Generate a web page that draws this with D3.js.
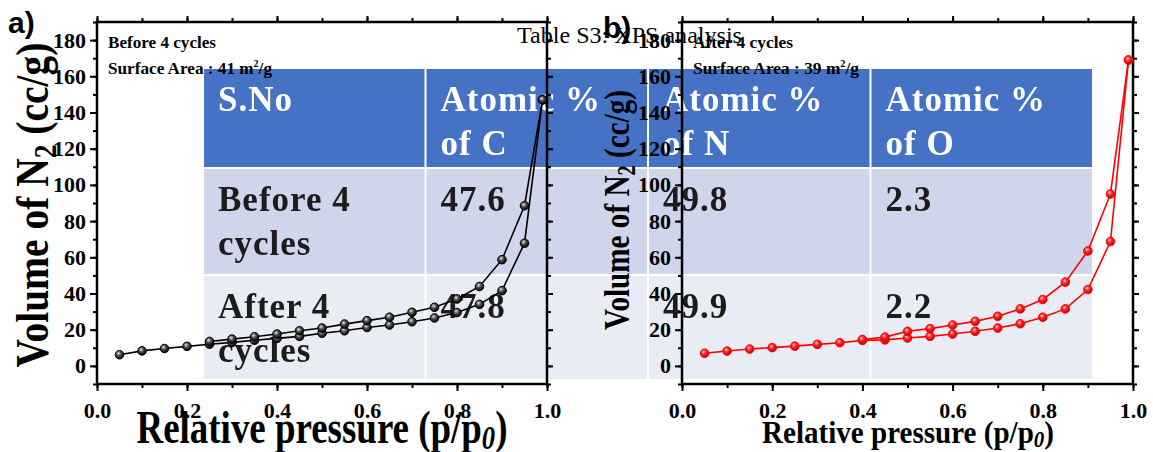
<!DOCTYPE html>
<html>
<head>
<meta charset="utf-8">
<script src="https://cdn.jsdelivr.net/npm/d3@7"></script>
<style>
  body { margin: 0; background: #fff; }
  svg { display: block; }
</style>
</head>
<body>
<div id="chart-area"></div>
<script>
// isotherm data
var adsPressure = [0.05, 0.1, 0.15, 0.2, 0.25, 0.3, 0.35, 0.4, 0.45, 0.5, 0.55, 0.6, 0.65, 0.7, 0.75, 0.8, 0.85, 0.9, 0.95, 0.99];
var beforeAds = [6.2, 8.3, 9.6, 10.8, 12.0, 13.0, 14.2, 15.2, 16.3, 18.0, 19.4, 21.2, 22.6, 24.4, 26.5, 29.5, 34.0, 41.6, 67.8, 147];
var beforeDesPressure = [0.99, 0.95, 0.9, 0.85, 0.8, 0.75, 0.7, 0.65, 0.6, 0.55, 0.5, 0.45, 0.4, 0.35, 0.3, 0.25];
var beforeDes = [147, 88.5, 58.7, 43.9, 37.0, 32.4, 29.6, 26.9, 25.0, 23.1, 20.9, 19.4, 17.6, 16.1, 14.8, 13.5];
var afterAds = [7.0, 8.2, 9.3, 10.1, 10.9, 11.9, 12.8, 14.1, 14.4, 15.4, 16.3, 17.6, 19.1, 20.9, 23.3, 26.9, 31.5, 42.2, 68.7, 169];
var afterDesPressure = [0.99, 0.95, 0.9, 0.85, 0.8, 0.75, 0.7, 0.65, 0.6, 0.55, 0.5, 0.45, 0.4];
var afterDes = [169, 95, 63.5, 46.3, 36.7, 31.5, 27.4, 24.6, 22.6, 20.6, 19.1, 15.9, 14.6];

var xTicks = [0, 0.2, 0.4, 0.6, 0.8, 1.0];
var yTicks = [0, 20, 40, 60, 80, 100, 120, 140, 160, 180];

// background table (XPS)
var tableTitle = "Table S3: XPS analysis";
var tableHeader = [["S.No"], ["Atomic %", "of C"], ["Atomic %", "of N"], ["Atomic %", "of O"]];
var tableRows = [
  [["Before 4", "cycles"], ["47.6"], ["49.8"], ["2.3"]],
  [["After 4", "cycles"], ["47.8"], ["49.9"], ["2.2"]]
];

var width = 1153, height = 452;
var svg = d3.select("#chart-area").append("svg")
  .attr("width", width).attr("height", height);

var defs = svg.append("defs");
defs.append("filter").attr("id", "blur")
  .append("feGaussianBlur").attr("stdDeviation", 0.7);

function ballGradient(id, light, mid, dark) {
  var gr = defs.append("radialGradient").attr("id", id)
    .attr("cx", "40%").attr("cy", "35%").attr("r", "65%");
  gr.append("stop").attr("offset", "0%").attr("stop-color", light);
  gr.append("stop").attr("offset", "40%").attr("stop-color", mid);
  gr.append("stop").attr("offset", "100%").attr("stop-color", dark);
}
ballGradient("ballBlack", "#e8e8e8", "#555", "#000");
ballGradient("ballRed", "#ffd0d0", "#ff2a2a", "#c00000");

var serif = "'Liberation Serif', 'Times New Roman', serif";

// ---- table behind the plots ----
var tbl = svg.append("g").attr("filter", "url(#blur)");
var col = d3.scaleBand().domain(d3.range(4)).range([203, 1093]);
var rowTop = [68, 168, 275, 380];
var rowFill = ["#4472c4", "#cfd5ea", "#e9ebf5"];
var allRows = [tableHeader].concat(tableRows);

allRows.forEach(function(row, ri) {
  row.forEach(function(cell, ci) {
    tbl.append("rect")
      .attr("x", col(ci) + 1).attr("y", rowTop[ri] + 1)
      .attr("width", col.bandwidth() - 2).attr("height", rowTop[ri + 1] - rowTop[ri] - 2)
      .attr("fill", rowFill[ri]);
    cell.forEach(function(line, li) {
      tbl.append("text")
        .attr("x", col(ci) + 15)
        .attr("y", rowTop[ri] + 43 + li * 44)
        .attr("font-family", serif).attr("font-weight", "bold")
        .attr("font-size", 35).attr("letter-spacing", 1)
        .attr("fill", ri === 0 ? "#fff" : "#1c1c1c")
        .text(line);
    });
  });
});

svg.append("text")
  .attr("x", 517).attr("y", 43)
  .attr("font-family", serif).attr("font-size", 23)
  .attr("textLength", 225).attr("lengthAdjust", "spacingAndGlyphs")
  .text(tableTitle);

// scale text to a wanted length along its direction
function fitText(g, txt, cx, cy, rot, len) {
  var l = txt.node().getComputedTextLength();
  g.attr("transform", "translate(" + cx + "," + cy + ") rotate(" + rot + ") scale(" + (len / l) + ",1)");
}

function panel(opt) {
  var x = d3.scaleLinear().domain([0, 1]).range([opt.left, opt.right]);
  var y = d3.scaleLinear().domain([-10, 190]).range([384, 22]);
  var g = svg.append("g");

  // minor + major ticks on all sides
  var minorX = d3.range(0, 1.01, 0.1), minorY = d3.range(-10, 191, 10);
  function tickStyle(a) {
    a.select(".domain").remove();
    a.selectAll(".tick line").attr("stroke", "#000").attr("stroke-width", 2);
    a.selectAll("text").attr("font-family", serif).attr("font-weight", "bold")
      .attr("font-size", 22).attr("fill", "#000");
  }
  g.append("g").attr("transform", "translate(0,384)")
    .call(d3.axisBottom(x).tickValues(minorX).tickSize(4).tickFormat("")).call(tickStyle);
  g.append("g").attr("transform", "translate(0,22)")
    .call(d3.axisTop(x).tickValues(minorX).tickSize(4).tickFormat("")).call(tickStyle);
  g.append("g").attr("transform", "translate(" + opt.left + ",0)")
    .call(d3.axisLeft(y).tickValues(minorY).tickSize(4).tickFormat("")).call(tickStyle);
  g.append("g").attr("transform", "translate(" + opt.right + ",0)")
    .call(d3.axisRight(y).tickValues(minorY).tickSize(4).tickFormat("")).call(tickStyle);

  var xa = g.append("g").attr("transform", "translate(0,384)")
    .call(d3.axisBottom(x).tickValues(xTicks).tickSize(7).tickPadding(10).tickFormat(d3.format(".1f")))
    .call(tickStyle);
  xa.selectAll("text").attr("dy", "0.75em");
  g.append("g").attr("transform", "translate(" + opt.left + ",0)")
    .call(d3.axisLeft(y).tickValues(yTicks).tickSize(7).tickPadding(4))
    .call(tickStyle);
  g.append("g").attr("transform", "translate(" + opt.right + ",0)")
    .call(d3.axisRight(y).tickValues(yTicks).tickSize(6).tickFormat("")).call(tickStyle);
  g.append("g").attr("transform", "translate(0,22)")
    .call(d3.axisTop(x).tickValues(xTicks).tickSize(6).tickFormat("")).call(tickStyle);

  g.append("rect")
    .attr("x", opt.left).attr("y", 22)
    .attr("width", opt.right - opt.left).attr("height", 362)
    .attr("fill", "none").attr("stroke", "#000").attr("stroke-width", 2.5);

  // isotherm branches
  var line = d3.line().x(function(d) { return x(d[0]); }).y(function(d) { return y(d[1]); });
  opt.series.forEach(function(s) {
    var pts = d3.zip(s.p, s.v);
    g.append("path").datum(pts)
      .attr("d", line).attr("fill", "none")
      .attr("stroke", opt.color).attr("stroke-width", 1.6);
    g.selectAll(null).data(pts).enter().append("circle")
      .attr("cx", function(d) { return x(d[0]); })
      .attr("cy", function(d) { return y(d[1]); })
      .attr("r", 4.3)
      .attr("fill", "url(#" + opt.ball + ")")
      .attr("stroke", opt.color).attr("stroke-width", 1);
  });

  // annotation
  var ann = g.append("g").attr("font-family", serif).attr("font-weight", "bold")
    .attr("font-size", 17).attr("fill", "#000");
  ann.append("text").attr("x", opt.left + 11).attr("y", 48)
    .attr("textLength", opt.annW[0]).attr("lengthAdjust", "spacingAndGlyphs")
    .text(opt.note);
  var t2 = ann.append("text").attr("x", opt.left + 11).attr("y", 74)
    .attr("textLength", opt.annW[1]).attr("lengthAdjust", "spacingAndGlyphs");
  t2.append("tspan").text("Surface Area : " + opt.area + " m");
  t2.append("tspan").attr("font-size", 10).attr("dy", -7).text("2");
  t2.append("tspan").attr("dy", 7).text("/g");

  // x title
  var xt = g.append("g");
  var xtt = xt.append("text").attr("text-anchor", "middle")
    .attr("font-family", serif).attr("font-weight", "bold")
    .attr("font-size", opt.xFont).attr("fill", "#000");
  xtt.append("tspan").text("Relative pressure (p/p");
  xtt.append("tspan").attr("font-style", "italic").attr("font-size", opt.xFont * 0.72)
    .attr("dy", opt.xFont * 0.12).text("0");
  xtt.append("tspan").attr("dy", -opt.xFont * 0.12).text(")");
  fitText(xt, xtt, opt.xTitle[0], 443, 0, opt.xTitle[1]);

  // y title
  var yt = g.append("g");
  var ytt = yt.append("text").attr("text-anchor", "middle")
    .attr("font-family", serif).attr("font-weight", "bold")
    .attr("font-size", opt.yFont).attr("fill", "#000");
  ytt.append("tspan").text("Volume of N");
  ytt.append("tspan").attr("font-size", opt.yFont * 0.7).attr("dy", opt.yFont * 0.18).text("2");
  ytt.append("tspan").attr("dy", -opt.yFont * 0.18).text(" (cc/g)");
  fitText(yt, ytt, opt.yTitle[0], opt.yTitle[1], -90, opt.yTitle[2]);

  // panel letter
  svg.append("text").attr("x", opt.letter[0]).attr("y", opt.letter[1])
    .attr("font-family", "'Liberation Sans', Arial, sans-serif").attr("font-weight", "bold")
    .attr("font-size", 30).attr("fill", "#000").text(opt.letter[2]);
}

panel({
  left: 97, right: 547, color: "#000", ball: "ballBlack",
  series: [{ p: adsPressure, v: beforeAds }, { p: beforeDesPressure, v: beforeDes }],
  note: "Before 4 cycles", area: "41", annW: [108, 164],
  xFont: 46, xTitle: [322, 371],
  yFont: 46, yTitle: [48, 205, 325],
  letter: [8, 33, "a)"]
});

panel({
  left: 682, right: 1133, color: "#ff0000", ball: "ballRed",
  series: [{ p: adsPressure, v: afterAds }, { p: afterDesPressure, v: afterDes }],
  note: "After 4 cycles", area: "39", annW: [100, 166],
  xFont: 31, xTitle: [908, 292],
  yFont: 35, yTitle: [629, 210, 240],
  letter: [603, 38, "b)"]
});
</script>
</body>
</html>
